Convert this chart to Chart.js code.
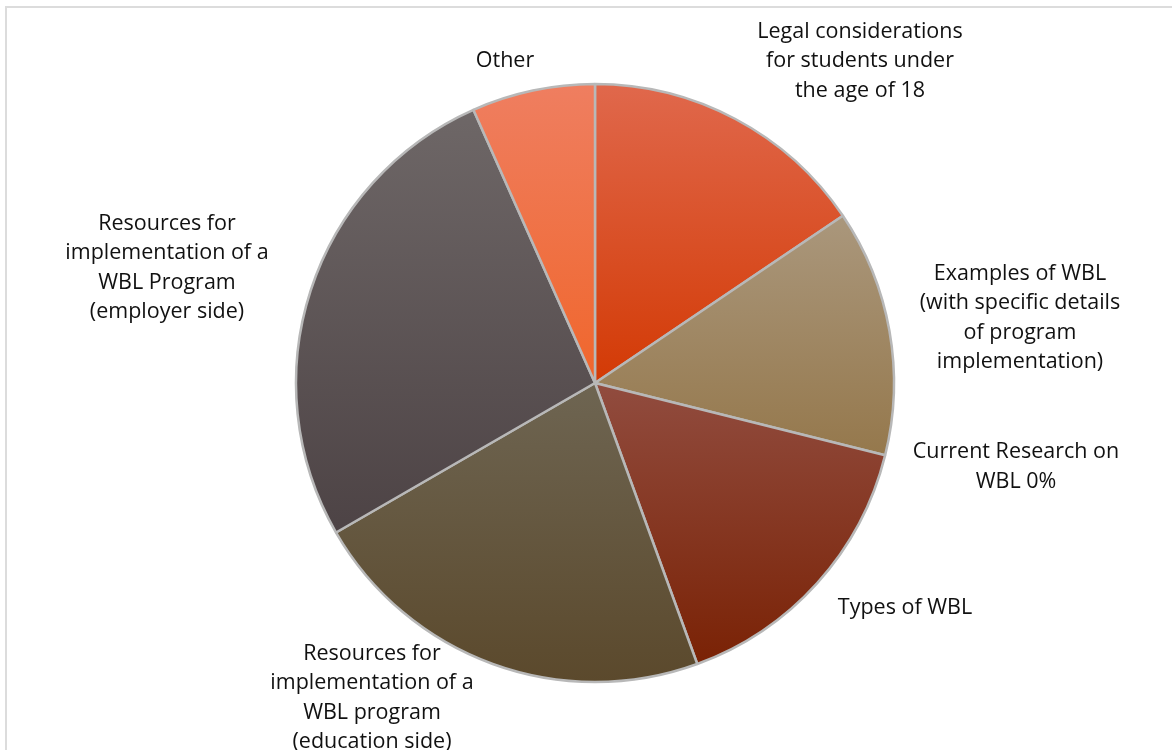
<!DOCTYPE html>
<html>
<head>
<meta charset="utf-8">
<script src="https://cdn.jsdelivr.net/npm/chart.js@4.4.1/dist/chart.umd.min.js"></script>
<style>
  html, body { margin: 0; padding: 0; background: #fff; overflow: hidden; }
  #wrap { position: relative; width: 1172px; height: 750px; }
  #frame { position: absolute; left: 5px; top: 6px; width: 1200px; height: 800px;
           border: 2px solid #dcdcdc; box-sizing: border-box; }
  canvas { position: absolute; left: 0; top: 0; }
</style>
</head>
<body>
<div id="wrap">
  <div id="frame"></div>
  <canvas id="pie" width="1172" height="750"></canvas>
</div>
<script>
// Topics (clockwise from 12 o'clock) and number of responses
const topics = [
  "Legal considerations for students under the age of 18",
  "Examples of WBL (with specific details of program implementation)",
  "Current Research on WBL",
  "Types of WBL",
  "Resources for implementation of a WBL program (education side)",
  "Resources for implementation of a WBL Program (employer side)",
  "Other"
];
const counts = [7, 6, 0, 7, 10, 12, 3];

// Label text, broken into lines as in the original
const labelLines = [
  ["Legal considerations", "for students under", "the age of 18"],
  ["Examples of WBL", "(with specific details", "of program", "implementation)"],
  ["Current Research on", "WBL 0%"],
  ["Types of WBL"],
  ["Resources for", "implementation of a", "WBL program", "(education side)"],
  ["Resources for", "implementation of a", "WBL Program", "(employer side)"],
  ["Other"]
];

// gradient colours per slice: [top, bottom]
const sliceColors = [
  ["#e0684c", "#d33a05"],
  ["#aa977c", "#95784c"],
  ["#9a8a70", "#9a8a70"],
  ["#914c3f", "#7a2205"],
  ["#6e6552", "#5b492c"],
  ["#6e6767", "#4d4345"],
  ["#ef7e60", "#f0662c"]
];

// label block centres, offset from the pie centre
const labelOffsets = [
  [265, -322], [425, -65], [421, 84], [310, 225],
  [-223, 315], [-428, -115], [-90, -322]
];

const RADIUS = 299;
const total = counts.reduce((a, b) => a + b, 0);

function sliceGradient(ctx) {
  const chart = ctx.chart;
  const area = chart.chartArea;
  const i = ctx.dataIndex;
  const cols = sliceColors[i];
  if (!area) return cols[0];
  const cx = (area.left + area.right) / 2;
  const cy = (area.top + area.bottom) / 2;
  let start = 0;
  for (let k = 0; k < i; k++) start += counts[k];
  const a0 = (start / total) * 360;
  const a1 = ((start + counts[i]) / total) * 360;
  const ys = [cy];
  [a0, a1].forEach((a) => ys.push(cy - RADIUS * Math.cos((a * Math.PI) / 180)));
  if (a0 <= 0) ys.push(cy - RADIUS);
  if (a0 <= 180 && a1 >= 180) ys.push(cy + RADIUS);
  if (a1 >= 360) ys.push(cy - RADIUS);
  const y0 = Math.min(...ys);
  const y1 = Math.max(...ys);
  if (y1 - y0 < 1) return cols[0];
  const g = chart.ctx.createLinearGradient(0, y0, 0, y1);
  g.addColorStop(0, cols[0]);
  g.addColorStop(1, cols[1]);
  return g;
}

const labelPlugin = {
  id: "sliceLabels",
  afterDraw(chart) {
    const area = chart.chartArea;
    const cx = (area.left + area.right) / 2;
    const cy = (area.top + area.bottom) / 2;
    const c = chart.ctx;
    const lh = 29.5;
    c.save();
    c.font = '21.5px "Open Sans", sans-serif';
    c.fillStyle = "#111";
    c.textAlign = "center";
    c.textBaseline = "middle";
    labelLines.forEach((lines, i) => {
      const x = cx + labelOffsets[i][0];
      const y = cy + labelOffsets[i][1] - ((lines.length - 1) * lh) / 2;
      lines.forEach((t, j) => c.fillText(t, x, y + j * lh));
    });
    c.restore();
  }
};

new Chart(document.getElementById("pie"), {
  type: "pie",
  data: {
    labels: topics,
    datasets: [
      {
        data: counts,
        backgroundColor: sliceGradient,
        borderColor: "#b8b8b8",
        borderWidth: 2.5
      }
    ]
  },
  options: {
    responsive: false,
    animation: false,
    radius: RADIUS,
    layout: { padding: { top: 84, bottom: 68, left: 18, right: 0 } },
    plugins: {
      legend: { display: false },
      tooltip: { enabled: false }
    }
  },
  plugins: [labelPlugin]
});
</script>
</body>
</html>
